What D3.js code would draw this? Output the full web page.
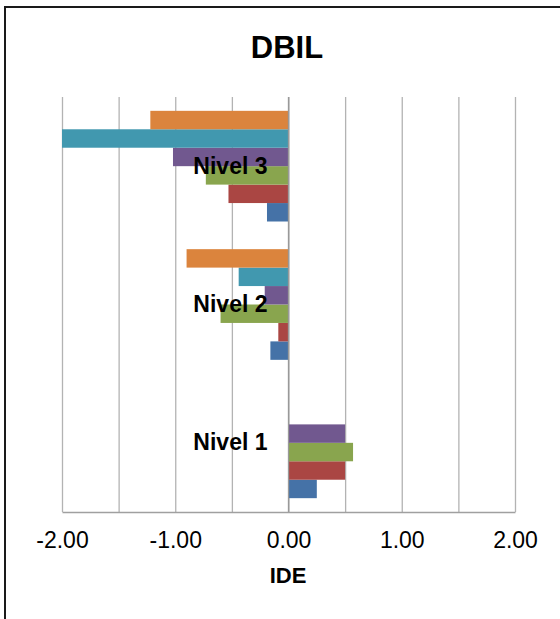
<!DOCTYPE html>
<html>
<head>
<meta charset="utf-8">
<script src="https://cdn.jsdelivr.net/npm/d3@7"></script>
<style>
  body { margin: 0; background: #fff; }
  svg { display: block; font-family: "Liberation Sans", Arial, sans-serif; }
</style>
</head>
<body>
<svg id="drawing_region"></svg>
<script>
// categorias (de arriba a abajo) y series (orden de dibujo: abajo -> arriba)
var categories = ['Nivel 3', 'Nivel 2', 'Nivel 1'];
var seriesNames = ['S1', 'S2', 'S3', 'S4', 'S5', 'S6'];
var seriesColors = ['#4572A7', '#AA4643', '#89A54E', '#71588F', '#4198AF', '#DB843D'];

// valores por categoria: Nivel 3, Nivel 2, Nivel 1
var s1 = [-0.19, -0.16, 0.25];
var s2 = [-0.53, -0.09, 0.50];
var s3 = [-0.73, -0.60, 0.57];
var s4 = [-1.02, -0.21, 0.50];
var s5 = [-2.00, -0.44, null];
var s6 = [-1.22, -0.90, null];
var seriesValues = [s1, s2, s3, s4, s5, s6];

var xTicks = [-2, -1, 0, 1, 2];
var xGrid = [-2, -1.5, -1, -0.5, 0, 0.5, 1, 1.5, 2];

var config = {
  width: 560,
  height: 619,
  margin: {top: 97, right: 45, bottom: 107, left: 62}
};

var svg = d3.select('#drawing_region')
  .attr('width', config.width)
  .attr('height', config.height);

// marco exterior
svg.append('rect')
  .attr('x', 5).attr('y', 7)
  .attr('width', 600).attr('height', 700)
  .attr('fill', 'none')
  .attr('stroke', '#1a1a1a')
  .attr('stroke-width', 2);

var inner_width = config.width - config.margin.left - config.margin.right;
var inner_height = config.height - config.margin.top - config.margin.bottom;

var chart = svg.append('g')
  .attr('transform', `translate(${config.margin.left}, ${config.margin.top})`);

var xscale = d3.scaleLinear()
  .domain([-2, 2])
  .range([0, inner_width]);

var yscale = d3.scaleBand()
  .domain(categories)
  .range([0, inner_height])
  .paddingInner(0.2)
  .paddingOuter(0.1);

// la primera serie va abajo
var sscale = d3.scaleBand()
  .domain(seriesNames.slice().reverse())
  .range([0, yscale.bandwidth()]);

// lineas de cuadricula
chart.append('g')
  .attr('class', 'grid')
  .call(d3.axisBottom(xscale).tickValues(xGrid).tickSize(inner_height).tickFormat(''))
  .call(g => g.select('.domain').remove())
  .call(g => g.selectAll('line').attr('stroke', '#b3b3b3').attr('stroke-width', 1.3));

// barras
var rows = [];
seriesNames.forEach((s, i) => {
  categories.forEach((c, j) => {
    var v = seriesValues[i][j];
    if (v !== null) rows.push({series: s, color: seriesColors[i], category: c, value: v});
  });
});

chart.selectAll('rect.bar')
  .data(rows)
  .enter()
  .append('rect')
  .attr('class', 'bar')
  .attr('x', d => xscale(Math.min(0, d.value)))
  .attr('y', d => yscale(d.category) + sscale(d.series))
  .attr('width', d => Math.abs(xscale(d.value) - xscale(0)))
  .attr('height', sscale.bandwidth())
  .attr('fill', d => d.color);

// eje en cero
chart.append('line')
  .attr('x1', xscale(0)).attr('x2', xscale(0))
  .attr('y1', 0).attr('y2', inner_height)
  .attr('stroke', '#999')
  .attr('stroke-width', 1.3);

// eje x
var xaxis_group = chart.append('g')
  .attr('transform', `translate(0, ${inner_height})`)
  .call(d3.axisBottom(xscale).tickValues(xTicks).tickSize(0).tickPadding(20).tickFormat(d => d.toFixed(2)));
xaxis_group.select('.domain').attr('stroke', '#a0a0a0').attr('stroke-width', 1.3);
xaxis_group.selectAll('text')
  .attr('font-size', 23)
  .attr('font-family', '"Liberation Sans", Arial, sans-serif')
  .attr('fill', '#000');

// etiquetas de categoria
var yaxis_group = chart.append('g')
  .attr('transform', `translate(${xscale(0)}, 0)`)
  .call(d3.axisLeft(yscale).tickSize(0).tickPadding(21));
yaxis_group.select('.domain').remove();
yaxis_group.selectAll('text')
  .attr('font-size', 23)
  .attr('font-weight', 'bold')
  .attr('font-family', '"Liberation Sans", Arial, sans-serif')
  .attr('fill', '#000');

// titulo
svg.append('text')
  .attr('x', 287).attr('y', 58)
  .attr('text-anchor', 'middle')
  .attr('font-size', 31)
  .attr('font-weight', 'bold')
  .text('DBIL');

// titulo eje
svg.append('text')
  .attr('x', 288).attr('y', 583)
  .attr('text-anchor', 'middle')
  .attr('font-size', 22)
  .attr('font-weight', 'bold')
  .text('IDE');
</script>
</body>
</html>
